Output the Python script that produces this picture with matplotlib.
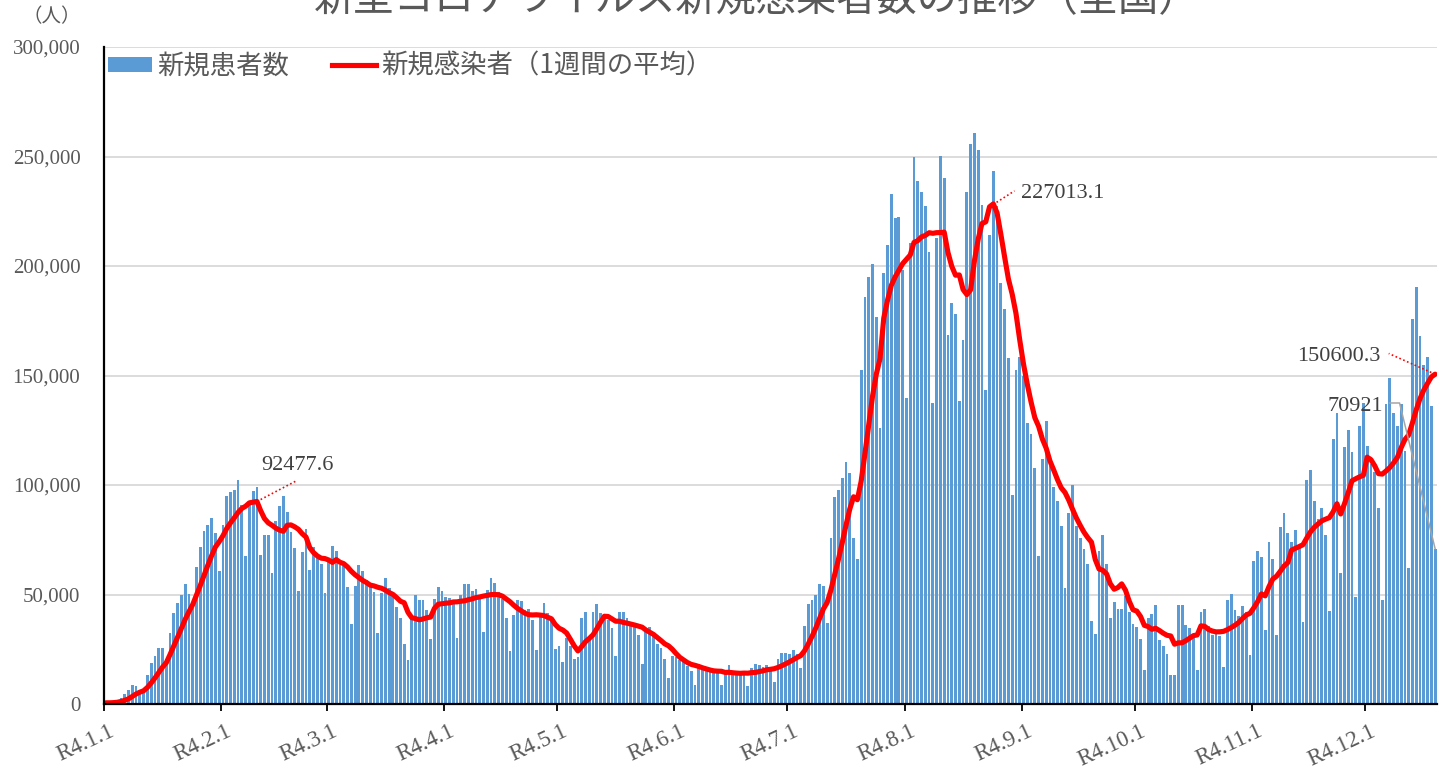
import numpy as np
import pandas as pd
import matplotlib
matplotlib.use("Agg")
import matplotlib.pyplot as plt
import matplotlib.transforms as mtransforms
from matplotlib.patches import Patch
from matplotlib.lines import Line2D

plt.rcParams['font.family'] = ['Noto Sans CJK JP', 'DejaVu Sans']

# ---------------- data (daily new cases, R4 = 2022, Jan 1 - Dec 19) ----------------
jan = [534, 553, 782, 1265, 2638, 4475, 6204, 8480, 8249, 6438, 5905, 13244, 18860, 22045, 25742, 25631,
       20675, 32197, 41485, 46199, 49854, 54576, 50041, 43946, 62613, 71633, 78930, 81811, 84933, 78016, 60656]
feb = [81900, 94900, 96800, 97900, 102100, 90800, 67800, 92700, 97100, 98900, 68200, 77200, 77200, 59900,
       83700, 90600, 95200, 87500, 78400, 71100, 51800, 69600, 80000, 61000, 71900, 67800, 64000, 50500]
mar = [65000, 72300, 70000, 63500, 63200, 53600, 36600, 53800, 63500, 60900, 56700, 54900, 51000, 32400,
       50600, 57600, 53000, 51000, 44500, 39400, 27500, 20200, 40400, 49800, 47300, 47300, 43100, 29800,
       48000, 53600, 51400]
apr = [49000, 48400, 46000, 30100, 50000, 54900, 54900, 51800, 52400, 48000, 33100, 52000, 57600, 55100,
       51000, 48000, 39200, 24200, 40700, 47700, 47000, 43000, 43500, 38500, 24800, 39700, 46200, 41600,
       38000, 25200]
may = [26700, 19100, 30200, 26300, 20700, 21400, 39200, 42200, 29500, 41900, 45700, 41600, 40400, 38400,
       34800, 21800, 41900, 41900, 39300, 37400, 35400, 31300, 18400, 32800, 35100, 32100, 27500, 25700,
       20700, 12000, 21800]
jun = [21400, 19900, 19100, 17500, 15000, 8900, 18200, 17100, 16300, 15600, 14800, 14100, 8500, 14500,
       17600, 14800, 14500, 14100, 14800, 8200, 16300, 18200, 17600, 16700, 17600, 16300, 10100, 20500,
       23500, 23500]
jul = [23000, 24700, 23000, 16300, 35800, 45500, 47700, 50000, 54700, 53800, 36800, 75800, 94300, 97500,
       103000, 110500, 105500, 75800, 66300, 152500, 186000, 195000, 201000, 176700, 126000, 196700,
       209700, 233000, 221800, 222500, 198000]
aug = [139500, 210500, 250000, 238800, 233800, 227200, 206600, 137600, 212600, 250200, 240200, 168600,
       183300, 178100, 138400, 166000, 234000, 255700, 260900, 253000, 228000, 143500, 214000, 243400,
       227200, 192400, 180200, 157800, 95300, 152600, 158300]
sep = [149700, 128500, 123200, 107600, 67800, 111800, 129300, 108800, 99200, 92600, 81400, 52900, 87200,
       100000, 81400, 75800, 70800, 64000, 38100, 31800, 69700, 77300, 64000, 39200, 46800, 43500, 43500,
       49500, 42000, 36600]
oct_ = [35100, 29500, 15300, 39400, 40900, 45200, 29400, 26700, 22700, 13100, 13100, 45300, 45300, 36300,
        34800, 30600, 15400, 42200, 43500, 35400, 31300, 32100, 30900, 16900, 47600, 50300, 42700, 40300,
        44600, 42100, 22500]
nov = [65200, 70000, 67300, 33900, 74000, 66300, 31600, 81000, 87000, 78300, 73800, 79500, 72000, 37400,
       102300, 107000, 92800, 84500, 89500, 77300, 42300, 121000, 132800, 59900, 117500, 125200, 114900,
       48800, 127000, 137600]
dec = [118000, 109600, 105800, 89500, 47300, 136900, 148800, 132800, 127000, 136900, 115600, 62100,
       175700, 190400, 168100, 154600, 158400, 136100, 70921]

month_labels = ["R4.1.1", "R4.2.1", "R4.3.1", "R4.4.1", "R4.5.1", "R4.6.1",
                "R4.7.1", "R4.8.1", "R4.9.1", "R4.10.1", "R4.11.1", "R4.12.1"]
months = [jan, feb, mar, apr, may, jun, jul, aug, sep, oct_, nov, dec]

title = "新型コロナウイルス新規感染者数の推移（全国）"
legend_bar = "新規患者数"
legend_line = "新規感染者（1週間の平均）"
ann_feb = "92477.6"
ann_aug = "227013.1"
ann_dec_avg = "150600.3"
ann_dec_last = "70921"

# ---------------- derived ----------------
daily = pd.Series(np.concatenate([np.array(m, dtype=float) for m in months]))
avg7 = daily.rolling(7, min_periods=1).mean()
n = len(daily)
xc = np.arange(n) + 0.5
month_starts = np.cumsum([0] + [len(m) for m in months[:-1]])

# ---------------- figure ----------------
W, H = 1451, 773
fig = plt.figure(figsize=(W / 100, H / 100), dpi=100)
ax = fig.add_axes([104 / W, 1 - 704 / H, (1437 - 104) / W, (704 - 47) / H])

grey = "#595959"
serif = ["Liberation Serif", "DejaVu Serif"]

ax.bar(xc, daily.values, width=0.74, color="#5B9BD5", zorder=2, linewidth=0)
ax.plot(xc, avg7.values, color="#FF0000", lw=3.7, zorder=3, solid_capstyle="round", solid_joinstyle="round")

ax.set_xlim(0, n)
ax.set_ylim(0, 300000)
ax.set_yticks(np.arange(0, 300001, 50000))
ax.set_yticklabels([f"{v:,}" for v in range(0, 300001, 50000)], fontfamily=serif, fontsize=15, color=grey)
ax.grid(axis="y", color="#D9D9D9", lw=1.3, zorder=0)
ax.set_axisbelow(True)

for s in ["top", "right"]:
    ax.spines[s].set_visible(False)
for s in ["left", "bottom"]:
    ax.spines[s].set_color("black")
    ax.spines[s].set_linewidth(1.6)
    ax.spines[s].set_zorder(4)

ax.tick_params(axis="y", length=0, pad=17)
ax.tick_params(axis="x", direction="out", length=5, width=1.3, color="black", pad=7)
ax.set_xticks(month_starts)
ax.set_xticklabels(month_labels, fontfamily=serif, fontsize=16.5, color=grey,
                   rotation=25, ha="right", va="top", rotation_mode="anchor")
shift = mtransforms.ScaledTranslation(0.05, 0, fig.dpi_scale_trans)
for lab in ax.get_xticklabels():
    lab.set_transform(lab.get_transform() + shift)

# title (cut at the top of the picture, as in the source) and unit
fig.text(756.5 / W, 1 - 11 / H, title, fontsize=29, color=grey, ha="center", va="baseline")
fig.text(52 / W, 1 - 17 / H, "（人）", fontsize=14, color=grey, ha="center", va="center")

# legend
handles = [Patch(facecolor="#5B9BD5", edgecolor="none"),
           Line2D([0], [0], color="#FF0000", lw=3.7)]
leg = ax.legend(handles, [legend_bar, legend_line], ncol=2, frameon=False,
                loc="center left", bbox_to_anchor=(0.003, 0.971), borderpad=0, borderaxespad=0,
                fontsize=19, handlelength=1.65, handleheight=0.52, handletextpad=0.2,
                columnspacing=1.65)
for t in leg.get_texts():
    t.set_color(grey)


def anchored(xd, yd):
    return fig.dpi_scale_trans + mtransforms.ScaledTranslation(xd, yd, ax.transData)


def pts(lst):
    a = np.array(lst, dtype=float) / 72.0
    return a[:, 0], a[:, 1]


ann_color = "#404040"
# Feb peak of the weekly mean
i_feb = int(month_starts[1] + 9)
tr = anchored(xc[i_feb], avg7[i_feb])
lx, ly = pts([(0, 0), (28.8, 15.1)])
ax.plot(lx, ly, transform=tr, color="#FF0000", lw=1.2, ls=(0, (1, 1.5)), zorder=5, clip_on=False)
ax.text(29.5 / 72, 25.9 / 72, ann_feb, transform=tr, fontfamily=serif, fontsize=16,
        color=ann_color, ha="center", va="center", zorder=5)

# Aug peak of the weekly mean
i_aug = int(month_starts[7] + 22)
tr = anchored(xc[i_aug], avg7[i_aug])
lx, ly = pts([(0, 0), (18, 11.5)])
ax.plot(lx, ly, transform=tr, color="#FF0000", lw=1.2, ls=(0, (1, 1.5)), zorder=5, clip_on=False)
ax.text(53 / 72, 9.4 / 72, ann_aug, transform=tr, fontfamily=serif, fontsize=16,
        color=ann_color, ha="center", va="center", zorder=5)

# last weekly mean
i_last = n - 1
tr = anchored(xc[i_last], avg7[i_last])
lx, ly = pts([(0, 0), (-33.4, 14.9)])
ax.plot(lx, ly, transform=tr, color="#FF0000", lw=1.2, ls=(0, (1, 1.5)), zorder=5, clip_on=False)
ax.text(-69.3 / 72, 13 / 72, ann_dec_avg, transform=tr, fontfamily=serif, fontsize=16,
        color=ann_color, ha="center", va="center", zorder=5)

# last daily value
tr = anchored(xc[i_last], daily[i_last])
lx, ly = pts([(0, 0), (-25.6, 104.9), (-32.8, 104.9)])
ax.plot(lx, ly, transform=tr, color="#A5A5A5", lw=1.1, zorder=5, clip_on=False)
ax.text(-57.8 / 72, 102.4 / 72, ann_dec_last, transform=tr, fontfamily=serif, fontsize=16,
        color=ann_color, ha="center", va="center", zorder=5)

fig.savefig("out.png", dpi=100)
